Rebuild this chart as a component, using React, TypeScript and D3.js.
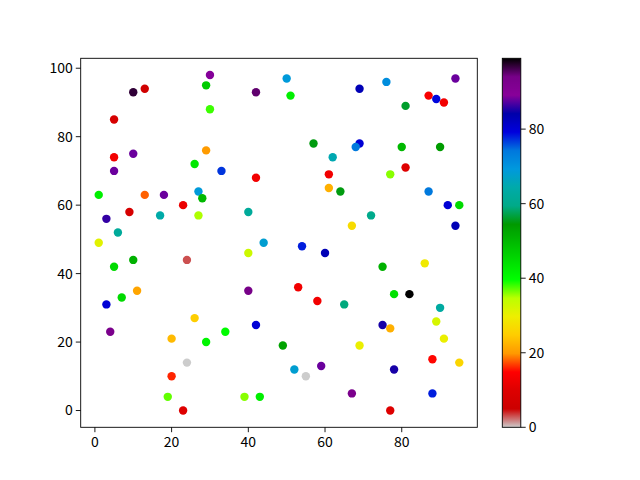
import React from "react";
import * as d3 from "d3";

// scatter data: x, y and colour value for each point
const xs = [30, 29, 10, 13, 30, 5, 29, 5, 10, 26, 5, 1, 13, 18, 27, 28, 23, 9, 3, 17, 27, 6, 1,
  50, 42, 51, 57, 62, 33, 42, 61, 61, 64, 40, 44, 54,
  94, 76, 69, 87, 89, 91, 81, 69, 68, 80, 90, 81, 77, 87, 92, 95, 72, 67, 94,
  10, 24, 5, 11, 7, 3, 26, 4, 20, 29, 24, 20, 19, 23,
  40, 60, 40, 53, 58, 65, 42, 34, 49, 52, 55, 59, 39, 43,
  75, 86, 78, 82, 90, 89, 75, 77, 91, 69, 88, 95, 78, 67, 88, 77];
const ys = [98, 95, 93, 94, 88, 85, 76, 74, 75, 72, 70, 63, 63, 63, 64, 62, 60, 58, 56, 57, 57, 52, 49,
  97, 93, 92, 78, 74, 70, 68, 69, 65, 64, 58, 49, 48,
  97, 96, 94, 92, 91, 90, 89, 78, 77, 77, 77, 71, 69, 64, 60, 60, 57, 54, 54,
  44, 44, 42, 35, 33, 31, 27, 23, 21, 20, 14, 10, 4, 0,
  46, 46, 35, 36, 32, 31, 25, 23, 19, 12, 10, 13, 4, 4,
  42, 43, 34, 34, 30, 26, 25, 24, 21, 19, 15, 14, 12, 5, 5, 0];
const cs = [89, 47, 97, 6, 38, 8, 20, 13, 88, 43, 88, 42, 18, 88, 69, 50, 12, 8, 86, 64, 35, 62, 31,
  69, 95, 42, 55, 65, 77, 13, 13, 22, 55, 62, 68, 78,
  88, 71, 83, 14, 79, 13, 56, 80, 74, 50, 54, 10, 36, 74, 80, 45, 60, 27, 83,
  51, 3, 45, 21, 45, 80, 25, 93, 23, 41, 0, 16, 37, 10,
  33, 83, 94, 13, 13, 59, 80, 40, 53, 68, 0, 88, 36, 42,
  51, 29, 44, 99, 63, 32, 85, 22, 30, 30, 15, 26, 85, 93, 78, 10];

const xTicks = [0, 20, 40, 60, 80];
const yTicks = [0, 20, 40, 60, 80, 100];
const cTicks = [0, 20, 40, 60, 80];

// nipy_spectral stops (reversed below)
const specStops = [0, 0.05, 0.1, 0.15, 0.2, 0.25, 0.3, 0.35, 0.4, 0.45, 0.5, 0.55, 0.6, 0.65, 0.7, 0.75, 0.8, 0.85, 0.9, 0.95, 1];
const specR = [0, 0.4667, 0.5333, 0, 0, 0, 0, 0, 0, 0, 0, 0, 0, 0.7333, 0.9333, 1, 1, 1, 0.8667, 0.8, 0.8];
const specG = [0, 0, 0, 0, 0, 0.4667, 0.6, 0.6667, 0.6667, 0.6, 0.7333, 0.8667, 1, 1, 0.9333, 0.8, 0.6, 0, 0, 0, 0.8];
const specB = [0, 0.5333, 0.6, 0.6667, 0.8667, 0.8667, 0.8667, 0.6667, 0.5333, 0, 0, 0, 0, 0, 0, 0, 0, 0, 0, 0, 0.8];

const spectral = d3
  .scaleLinear<string>()
  .domain(specStops)
  .range(specStops.map((_, i) => d3.rgb(specR[i] * 255, specG[i] * 255, specB[i] * 255).toString()))
  .interpolate(d3.interpolateRgb)
  .clamp(true);

export default function App() {
  const left = 80.7, right = 477.3, top = 58.3, bottom = 427.3;
  const cbLeft = 502.3, cbRight = 520.8;

  const xMin = d3.min(xs)!, xMax = d3.max(xs)!;
  const yMin = d3.min(ys)!, yMax = d3.max(ys)!;
  const cMin = d3.min(cs)!, cMax = d3.max(cs)!;
  const xPad = (xMax - xMin) * 0.05, yPad = (yMax - yMin) * 0.05;

  const x = d3.scaleLinear().domain([xMin - xPad, xMax + xPad]).range([left, right]);
  const y = d3.scaleLinear().domain([yMin - yPad, yMax + yPad]).range([bottom, top]);
  const c = d3.scaleLinear().domain([cMin, cMax]).range([bottom, top]);
  const color = (v: number) => spectral(1 - (v - cMin) / (cMax - cMin));

  const gradStops = d3.range(0, 101).map((i) => i / 100);
  const font = "'Noto Sans CJK SC', 'Noto Sans', sans-serif";

  return (
    <svg width={640} height={480} style={{ position: "absolute", left: 0, top: 0 }} fontFamily={font}>
      <defs>
        <linearGradient id="cbar" x1="0" y1="1" x2="0" y2="0">
          {gradStops.map((t, i) => (
            <stop key={i} offset={t} stopColor={spectral(1 - t)} />
          ))}
        </linearGradient>
      </defs>
      <rect x={0} y={0} width={640} height={480} fill="white" />

      {/* points */}
      {xs.map((xv, i) => (
        <circle key={i} cx={x(xv)} cy={y(ys[i])} r={4.2} fill={color(cs[i])} />
      ))}

      {/* axes frame */}
      <rect x={left} y={top} width={right - left} height={bottom - top} fill="none" stroke="black" strokeWidth={0.9} />

      {xTicks.map((t) => (
        <g key={t} transform={`translate(${x(t)},${bottom})`}>
          <line y2={4.9} stroke="black" strokeWidth={0.9} />
          <text y={20} textAnchor="middle" fontSize={14} fill="black">{t}</text>
        </g>
      ))}
      {yTicks.map((t) => (
        <g key={t} transform={`translate(${left},${y(t)})`}>
          <line x2={-4.9} stroke="black" strokeWidth={0.9} />
          <text x={-8} dy="0.35em" textAnchor="end" fontSize={14} fill="black">{t}</text>
        </g>
      ))}

      {/* colorbar */}
      <rect x={cbLeft} y={top} width={cbRight - cbLeft} height={bottom - top} fill="url(#cbar)" />
      <rect x={cbLeft} y={top} width={cbRight - cbLeft} height={bottom - top} fill="none" stroke="black" strokeWidth={0.9} />
      {cTicks.map((t) => (
        <g key={t} transform={`translate(${cbRight},${c(t)})`}>
          <line x2={4.9} stroke="black" strokeWidth={0.9} />
          <text x={8} dy="0.35em" textAnchor="start" fontSize={14} fill="black">{t}</text>
        </g>
      ))}
    </svg>
  );
}
